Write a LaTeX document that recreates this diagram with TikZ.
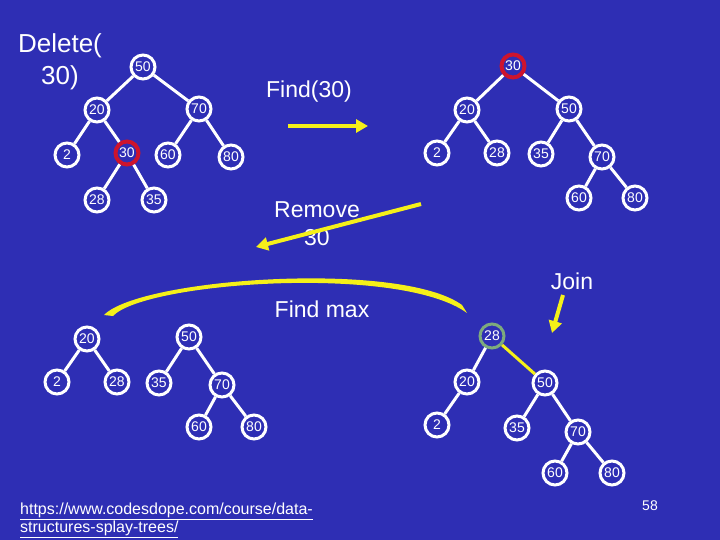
\documentclass[tikz,border=0pt]{standalone}
\usepackage{fontspec}
\setmainfont{Liberation Sans}
\usetikzlibrary{arrows.meta}
\definecolor{slideblue}{RGB}{46,46,180}
\definecolor{hlred}{RGB}{205,20,45}
\definecolor{hlgreen}{RGB}{125,170,125}
\definecolor{markyellow}{RGB}{245,240,25}
\tikzset{
  key/.style={circle, draw=white, fill=slideblue, line width=3pt, minimum size=24pt,
    inner sep=0pt, text=white, font=\fontsize{14}{14}\selectfont},
  found/.style={key, draw=hlred, line width=4pt, minimum size=23pt},
  newroot/.style={key, draw=hlgreen},
  branch/.style={draw=white, line width=3pt},
  pointer/.style={draw=markyellow, line width=4pt, -{Triangle[length=12pt,width=13pt]}},
  slidetext/.style={text=white, inner sep=0pt, anchor=base, align=center,
    font=\fontsize{23}{28}\selectfont}
}
\begin{document}
\begin{tikzpicture}[x=1pt,y=-1pt]
            \fill[slideblue] (0,0) rectangle (720,540);
            \useasboundingbox (0,0) rectangle (720,540);
            % titles (base is the last line)
            \node[slidetext, font=\fontsize{26}{32}\selectfont] (title) at (60,85) {Delete(\\30)};
            \node[slidetext] (findtxt) at (309,98) {Find(30)};
            \node[slidetext] (removetxt) at (317,245) {Remove\\30};
            \node[slidetext] (maxtxt) at (322,317) {Find max};
            \node[slidetext] (jointxt) at (572,289) {Join};
            % first tree
            \node[key] (a50) at (143,67) {50};
            \node[key] (a20) at (97,110) {20};
            \node[key] (a70) at (199,109) {70};
            \node[key] (a2) at (67,155) {2};
            \node[found] (a30) at (127,153) {30};
            \node[key] (a60) at (168,155) {60};
            \node[key] (a80) at (231,157) {80};
            \node[key] (a28) at (97,200) {28};
            \node[key] (a35) at (154,200) {35};
            \draw[branch] (a50)--(a20) (a50)--(a70) (a20)--(a2) (a20)--(a30)
                (a70)--(a60) (a70)--(a80) (a30)--(a28) (a30)--(a35);
            % after find
            \node[found] (b30) at (513,66) {30};
            \node[key] (b20) at (467,110) {20};
            \node[key] (b50) at (569,109) {50};
            \node[key] (b2) at (437,153) {2};
            \node[key] (b28) at (497,153) {28};
            \node[key] (b35) at (541,154) {35};
            \node[key] (b70) at (602,157) {70};
            \node[key] (b60) at (579,198) {60};
            \node[key] (b80) at (635,198) {80};
            \draw[branch] (b30)--(b20) (b30)--(b50) (b20)--(b2) (b20)--(b28)
                (b50)--(b35) (b50)--(b70) (b70)--(b60) (b70)--(b80);
            % after remove
            \node[key] (c20) at (87,339) {20};
            \node[key] (c2) at (57,382) {2};
            \node[key] (c28) at (117,382) {28};
            \node[key] (c50) at (189,337) {50};
            \node[key] (c35) at (159,383) {35};
            \node[key] (c70) at (222,385) {70};
            \node[key] (c60) at (199,427) {60};
            \node[key] (c80) at (254,427) {80};
            \draw[branch] (c20)--(c2) (c20)--(c28) (c50)--(c35) (c50)--(c70)
                (c70)--(c60) (c70)--(c80);
            % after join
            \node[newroot] (d28) at (492,336) {28};
            \node[key] (d20) at (467,382) {20};
            \node[key] (d50) at (545,383) {50};
            \node[key] (d2) at (437,425) {2};
            \node[key] (d35) at (517,428) {35};
            \node[key] (d70) at (578,432) {70};
            \node[key] (d60) at (555,473) {60};
            \node[key] (d80) at (612,473) {80};
            \draw[branch] (d28)--(d20) (d20)--(d2) (d50)--(d35) (d50)--(d70)
                (d70)--(d60) (d70)--(d80);
            \draw[branch, draw=markyellow] (d28)--(d50);
            % arrows
            \coordinate (findfrom) at (288,126);
            \coordinate (findto) at (368,126);
            \draw[pointer] (findfrom)--(findto);
            \coordinate (removefrom) at (421,204);
            \coordinate (removeto) at (256,247);
            \draw[pointer] (removefrom)--(removeto);
            \coordinate (joinfrom) at (563,295);
            \coordinate (jointo) at (552,333);
            \draw[pointer] (joinfrom)--(jointo);
            \fill[markyellow] (104,315) .. controls (140,278) and (400,260) .. (462,305)
                -- (467,313) .. controls (400,264) and (145,282) .. (113,316) -- cycle;
            % source and page
            \node[text=white, inner sep=0pt, anchor=base west, align=left,
                font=\fontsize{16}{18}\selectfont] (source) at (20,532)
                {\underline{https://www.codesdope.com/course/data-}\\\underline{structures-splay-trees/}};
            \node[text=white, inner sep=0pt, anchor=base, font=\fontsize{14}{14}\selectfont] (page) at (650,510) {58};
\end{tikzpicture}
\end{document}
